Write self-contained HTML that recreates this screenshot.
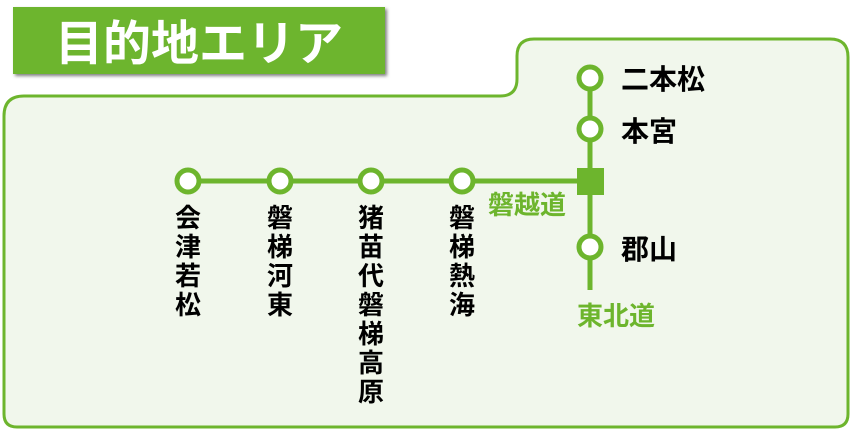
<!DOCTYPE html>
<html><head><meta charset="utf-8"><style>
html,body{margin:0;padding:0;background:#fff;width:850px;height:432px;overflow:hidden}
svg{display:block}
text{font-family:"Liberation Sans","Noto Sans CJK JP",sans-serif;font-weight:bold}
</style></head><body>
<svg width="850" height="432" viewBox="0 0 850 432" xmlns="http://www.w3.org/2000/svg">
<defs><filter id="sh" x="-5%" y="-20%" width="115%" height="150%"><feDropShadow dx="2" dy="2" stdDeviation="1.5" flood-color="#000" flood-opacity="0.5"/></filter></defs>
<rect x="13" y="7" width="372" height="67" fill="#6db52d" filter="url(#sh)"/>
<text x="199" y="60" font-size="48" fill="#fff" text-anchor="middle">目的地エリア</text>
<path d="M4,116 Q4,96 24,96 L500,96 Q517,96 517,79 L517,56 Q517,39 534,39 L830,39 Q848,39 848,57 L848,414 Q848,427 835,427 L17,427 Q4,427 4,414 Z" fill="#f1f7ec" stroke="#6db52d" stroke-width="3"/>
<g stroke="#6db52d" fill="none">
<line x1="188" y1="181" x2="590" y2="181" stroke-width="5"/>
<line x1="590" y1="78" x2="590" y2="290" stroke-width="5"/>
</g>
<rect x="577" y="168" width="27" height="27" fill="#6db52d"/>
<g fill="#fff" stroke="#6db52d" stroke-width="5">
<circle cx="188" cy="181" r="11"/><circle cx="280" cy="181" r="11"/><circle cx="371" cy="181" r="11"/><circle cx="462" cy="181" r="11"/>
<circle cx="590" cy="78" r="11"/><circle cx="590" cy="129" r="11"/><circle cx="590" cy="247" r="11"/>
</g>
<g font-size="28" fill="#000">
<text x="621" y="89">二本松</text>
<text x="621" y="141">本宮</text>
<text x="621" y="259">郡山</text>
</g>
<g font-size="26" fill="#6db52d">
<text x="488" y="214">磐越道</text>
<text x="577" y="325">東北道</text>
</g>
<g font-size="26" fill="#000" text-anchor="middle">
<text x="188" y="227">会</text><text x="188" y="256">津</text><text x="188" y="285">若</text><text x="188" y="314">松</text>
<text x="280" y="227">磐</text><text x="280" y="256">梯</text><text x="280" y="285">河</text><text x="280" y="314">東</text>
<text x="371" y="227">猪</text><text x="371" y="256">苗</text><text x="371" y="285">代</text><text x="371" y="314">磐</text><text x="371" y="343">梯</text><text x="371" y="372">高</text><text x="371" y="401">原</text>
<text x="462" y="227">磐</text><text x="462" y="256">梯</text><text x="462" y="285">熱</text><text x="462" y="314">海</text>
</g>
</svg>
</body></html>
